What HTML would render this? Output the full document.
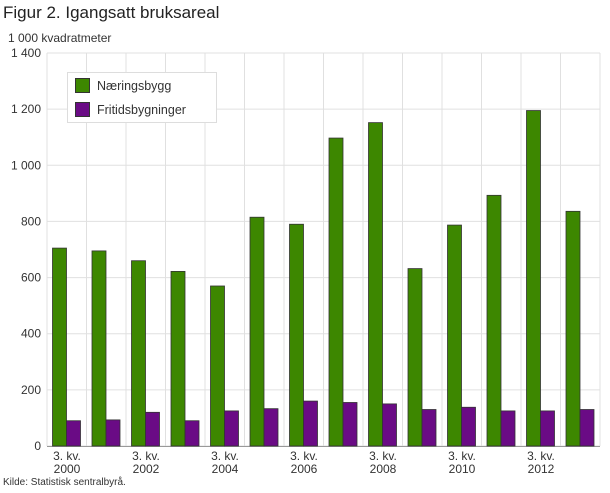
<!DOCTYPE html>
<html><head><meta charset="utf-8"><style>
body{margin:0;background:#fff;width:610px;height:488px;overflow:hidden;font-family:"Liberation Sans",sans-serif;}
</style></head><body>
<svg width="610" height="488" xmlns="http://www.w3.org/2000/svg" font-family="Liberation Sans, sans-serif">
<text x="3" y="18" font-size="17" fill="#222">Figur 2. Igangsatt bruksareal</text>
<text x="8" y="42" font-size="12" fill="#333">1 000 kvadratmeter</text>
<g id="grid"></g>
<g id="bars"></g>
<g id="labels" font-size="12" fill="#333"></g>
<rect x="67.5" y="72.5" width="149" height="50" fill="#fff" stroke="#ddd"/>
<rect x="75.5" y="78.5" width="14" height="14" fill="#3d8700" stroke="#333"/>
<text x="97" y="90" font-size="12.5" fill="#333">Næringsbygg</text>
<rect x="75.5" y="102.5" width="14" height="14" fill="#6a0b85" stroke="#333"/>
<text x="97" y="114" font-size="12.5" fill="#333">Fritidsbygninger</text>
<text x="3" y="485" font-size="10" fill="#333">Kilde: Statistisk sentralbyrå.</text>
</svg>
<script>
var ns="http://www.w3.org/2000/svg";
function el(p,t,a,txt){var e=document.createElementNS(ns,t);for(var k in a)e.setAttribute(k,a[k]);if(txt)e.textContent=txt;document.getElementById(p).appendChild(e);}
var L=47,W=39.5,B=446,S=393/1400;
for(var v=0;v<=1400;v+=200){var y=B-v*S;el("grid","line",{x1:L,x2:600,y1:y,y2:y,stroke:"#e0e0e0"});
el("labels","text",{x:41,y:y+4,"text-anchor":"end"},v>=1000?("1 "+String(v-1000).padStart(3,"0")):String(v));}
for(var i=1;i<=14;i++){var x=L+i*W;el("grid","line",{x1:x,x2:x,y1:53,y2:B,stroke:"#e0e0e0"});}
el("grid","line",{x1:L,x2:L,y1:53,y2:B,stroke:"#e0e0e0"});
var g=[705,695,660,622,570,815,790,1097,1152,632,787,893,1195,836];
var p=[90,93,120,90,125,133,160,155,150,130,138,125,125,130];
for(var i=0;i<14;i++){var x=L+i*W;
el("bars","rect",{x:x+5.5,y:B-g[i]*S,width:14,height:g[i]*S,fill:"#3d8700",stroke:"#333","stroke-width":0.8});
el("bars","rect",{x:x+19.5,y:B-p[i]*S,width:14,height:p[i]*S,fill:"#6a0b85",stroke:"#333","stroke-width":0.8});
if(i%2==0){el("labels","text",{x:x+20,y:460,"text-anchor":"middle"},"3. kv.");el("labels","text",{x:x+20,y:473,"text-anchor":"middle"},String(2000+i));}}
el("grid","line",{x1:L,x2:600,y1:B+0.5,y2:B+0.5,stroke:"#999"});
</script>
</body></html>
